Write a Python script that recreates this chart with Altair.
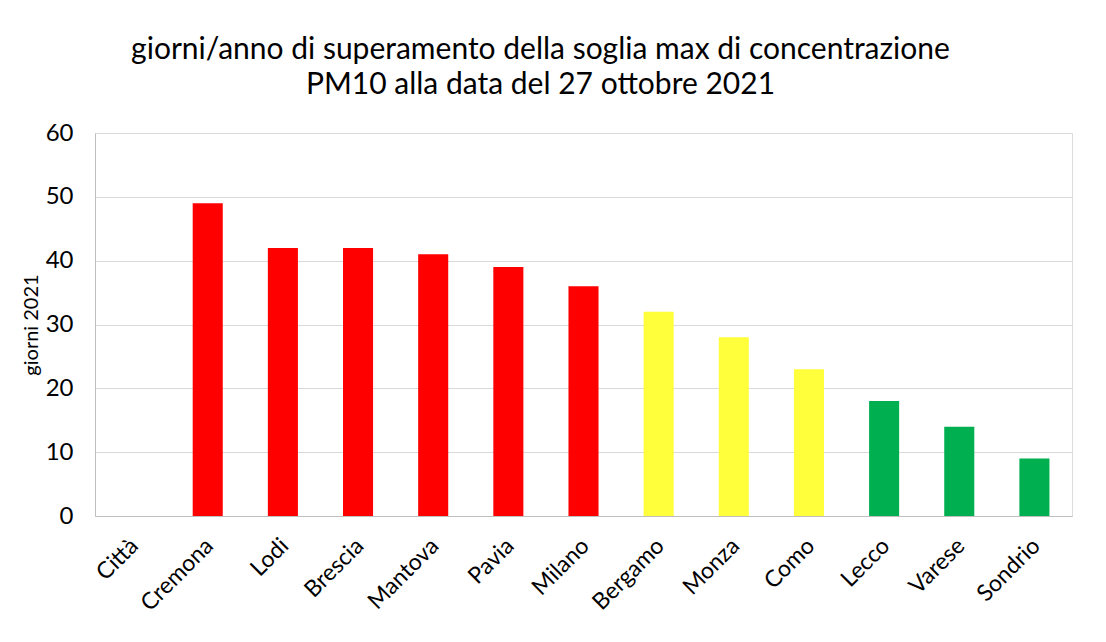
import altair as alt
import pandas as pd

cities = ["Città", "Cremona", "Lodi", "Brescia", "Mantova", "Pavia", "Milano",
          "Bergamo", "Monza", "Como", "Lecco", "Varese", "Sondrio"]
days = [None, 49, 42, 42, 41, 39, 36, 32, 28, 23, 18, 14, 9]
colors = ["#FFFFFF", "#FF0000", "#FF0000", "#FF0000", "#FF0000", "#FF0000", "#FF0000",
          "#FFFF3B", "#FFFF3B", "#FFFF3B", "#00B050", "#00B050", "#00B050"]

df = pd.DataFrame({"city": cities, "days": days, "color": colors})

FONT = "Lato"

chart = alt.Chart(df).mark_bar().encode(
    x=alt.X("city:N", sort=cities, title=None,
            scale=alt.Scale(paddingInner=0.6, paddingOuter=0.3),
            axis=alt.Axis(labelAngle=-45, labelAlign="right", labelBaseline="middle",
                          labelFontSize=23, labelFont=FONT, labelColor="#000000",
                          labelPadding=26, ticks=False, domainColor="#BFBFBF",
                          labelOverlap=False, labelOffset=2)),
    y=alt.Y("days:Q", title="giorni 2021",
            scale=alt.Scale(domain=[0, 60]),
            axis=alt.Axis(values=[0, 10, 20, 30, 40, 50, 60], labelFontSize=24,
                          labelFont=FONT, labelColor="#000000", labelPadding=22,
                          ticks=False, domainColor="#BFBFBF", gridColor="#D9D9D9",
                          titleFont=FONT, titleFontSize=20, titleFontWeight="normal",
                          titleColor="#000000", titlePadding=4)),
    color=alt.Color("color:N", scale=None),
).properties(
    width=977,
    height=383,
    title=alt.TitleParams(
        text=["giorni/anno di superamento della soglia max di concentrazione",
              "PM10 alla data del 27 ottobre 2021"],
        font=FONT, fontSize=30, fontWeight="normal", color="#000000",
        anchor="middle", dx=-43, lineHeight=35, offset=21),
    autosize=alt.AutoSizeParams(type="none"),
    padding={"left": 87, "top": 125, "right": 20, "bottom": 110},
).configure_view(stroke="#D9D9D9", strokeWidth=1).configure(background="white")

chart.save("out.html", embed_options={"renderer": "svg", "actions": False})
